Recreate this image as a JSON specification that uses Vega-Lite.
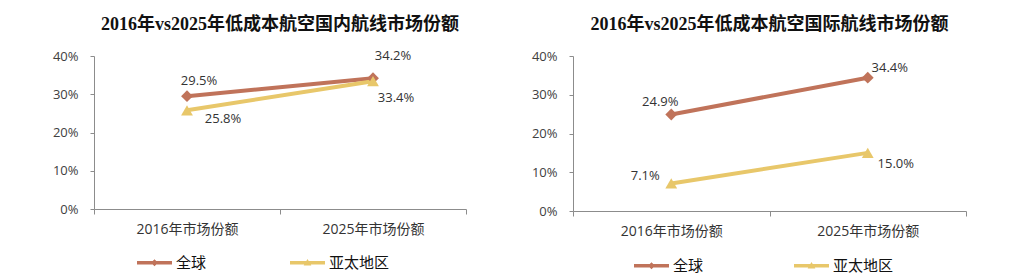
{
  "$schema": "https://vega.github.io/schema/vega-lite/v6.json",
  "padding": {"left": 52, "top": 16, "right": 5, "bottom": 0},
  "background": "white",
  "spacing": 64,
  "config": {
    "view": {"stroke": null},
    "font": "Open Sans, Noto Sans CJK SC",
    "title": {"font": "Liberation Serif, Noto Sans CJK SC", "fontSize": 18, "fontWeight": "bold", "color": "#111", "offset": 16},
    "axis": {"domainColor": "#8c8c8c", "tickColor": "#8c8c8c", "grid": false, "labelColor": "#404040", "title": null}
  },
  "resolve": {"scale": {"color": "independent", "x": "independent", "y": "independent"}, "legend": {"color": "independent"}},
  "hconcat": [
    {
      "title": "2016年vs2025年低成本航空国内航线市场份额",
      "width": 372,
      "height": 153,
      "data": {"values": [
        {"cat": "2016年市场份额", "series": "全球", "v": 0.295},
        {"cat": "2025年市场份额", "series": "全球", "v": 0.342},
        {"cat": "2016年市场份额", "series": "亚太地区", "v": 0.258},
        {"cat": "2025年市场份额", "series": "亚太地区", "v": 0.334}
      ]},
      "encoding": {
        "x": {"field": "cat", "type": "nominal", "sort": null, "scale": {"paddingInner": 0, "paddingOuter": 0}, "axis": {"labelAngle": 0, "tickBand": "extent", "tickSize": 5, "labelFontSize": 14, "labelPadding": 8, "labelColor": "#333"}},
        "y": {"field": "v", "type": "quantitative", "scale": {"domain": [0, 0.4]}, "axis": {"values": [0, 0.1, 0.2, 0.3, 0.4], "format": ".0%", "tickSize": 4, "labelFontSize": 13, "labelPadding": 12}}
      },
      "layer": [
        {
          "mark": {"type": "line", "strokeWidth": 4},
          "encoding": {
            "color": {"field": "series", "type": "nominal", "sort": null, "scale": {"domain": ["全球", "亚太地区"], "range": ["#c0735a", "#e8c76a"]},
              "legend": {"orient": "none", "legendX": 43, "legendY": 189, "direction": "horizontal", "columns": 2, "title": null, "symbolSize": 1225, "labelFontSize": 15, "labelColor": "#111", "labelOffset": 4, "columnPadding": 83,
                "encode": {"symbols": {"update": {
                  "shape": {"signal": "datum.value === '全球' ? 'M-1,-0.1H1V0.1H-1Z M0,-0.2L0.2,0L0,0.2L-0.2,0Z' : 'M-1,-0.1H1V0.1H-1Z M0,-0.22L0.22,0.16L-0.22,0.16Z'"},
                  "fill": {"signal": "datum.value === '全球' ? '#c0735a' : '#e8c76a'"},
                  "stroke": {"value": "transparent"},
                  "strokeWidth": {"value": 0},
                  "opacity": {"value": 1}
                }}}}}
          }
        },
        {
          "transform": [{"filter": "datum.series === '全球'"}],
          "mark": {"type": "point", "filled": true, "opacity": 1, "size": 140, "shape": "diamond", "color": "#c0735a"},
          "encoding": {}
        },
        {
          "transform": [{"filter": "datum.series === '亚太地区'"}],
          "mark": {"type": "point", "filled": true, "opacity": 1, "size": 140, "shape": "triangle-up", "color": "#e8c76a"},
          "encoding": {}
        },
        {
          "transform": [{"filter": "datum.series === '全球' && datum.cat === '2016年市场份额'"}],
          "mark": {"type": "text", "fontSize": 13, "color": "#333", "dx": 12, "dy": -15},
          "encoding": {"text": {"field": "v", "type": "quantitative", "format": ".1%"}}
        },
        {
          "transform": [{"filter": "datum.series === '全球' && datum.cat === '2025年市场份额'"}],
          "mark": {"type": "text", "fontSize": 13, "color": "#333", "dx": 20, "dy": -22},
          "encoding": {"text": {"field": "v", "type": "quantitative", "format": ".1%"}}
        },
        {
          "transform": [{"filter": "datum.series === '亚太地区' && datum.cat === '2016年市场份额'"}],
          "mark": {"type": "text", "fontSize": 13, "color": "#333", "dx": 36, "dy": 9},
          "encoding": {"text": {"field": "v", "type": "quantitative", "format": ".1%"}}
        },
        {
          "transform": [{"filter": "datum.series === '亚太地区' && datum.cat === '2025年市场份额'"}],
          "mark": {"type": "text", "fontSize": 13, "color": "#333", "dx": 23, "dy": 17},
          "encoding": {"text": {"field": "v", "type": "quantitative", "format": ".1%"}}
        }
      ]
    },
    {
      "title": "2016年vs2025年低成本航空国际航线市场份额",
      "width": 393,
      "height": 155,
      "data": {"values": [
        {"cat": "2016年市场份额", "series": "全球", "v": 0.249},
        {"cat": "2025年市场份额", "series": "全球", "v": 0.344},
        {"cat": "2016年市场份额", "series": "亚太地区", "v": 0.071},
        {"cat": "2025年市场份额", "series": "亚太地区", "v": 0.150}
      ]},
      "encoding": {
        "x": {"field": "cat", "type": "nominal", "sort": null, "scale": {"paddingInner": 0, "paddingOuter": 0}, "axis": {"labelAngle": 0, "tickBand": "extent", "tickSize": 5, "labelFontSize": 14, "labelPadding": 8, "labelColor": "#333"}},
        "y": {"field": "v", "type": "quantitative", "scale": {"domain": [0, 0.4]}, "axis": {"values": [0, 0.1, 0.2, 0.3, 0.4], "format": ".0%", "tickSize": 4, "labelFontSize": 13, "labelPadding": 12}}
      },
      "layer": [
        {
          "mark": {"type": "line", "strokeWidth": 4},
          "encoding": {
            "color": {"field": "series", "type": "nominal", "sort": null, "scale": {"domain": ["全球", "亚太地区"], "range": ["#c0735a", "#e8c76a"]},
              "legend": {"orient": "none", "legendX": 61, "legendY": 192, "direction": "horizontal", "columns": 2, "title": null, "symbolSize": 1225, "labelFontSize": 15, "labelColor": "#111", "labelOffset": 4, "columnPadding": 90,
                "encode": {"symbols": {"update": {
                  "shape": {"signal": "datum.value === '全球' ? 'M-1,-0.1H1V0.1H-1Z M0,-0.2L0.2,0L0,0.2L-0.2,0Z' : 'M-1,-0.1H1V0.1H-1Z M0,-0.22L0.22,0.16L-0.22,0.16Z'"},
                  "fill": {"signal": "datum.value === '全球' ? '#c0735a' : '#e8c76a'"},
                  "stroke": {"value": "transparent"},
                  "strokeWidth": {"value": 0},
                  "opacity": {"value": 1}
                }}}}}
          }
        },
        {
          "transform": [{"filter": "datum.series === '全球'"}],
          "mark": {"type": "point", "filled": true, "opacity": 1, "size": 140, "shape": "diamond", "color": "#c0735a"},
          "encoding": {}
        },
        {
          "transform": [{"filter": "datum.series === '亚太地区'"}],
          "mark": {"type": "point", "filled": true, "opacity": 1, "size": 140, "shape": "triangle-up", "color": "#e8c76a"},
          "encoding": {}
        },
        {
          "transform": [{"filter": "datum.series === '全球' && datum.cat === '2016年市场份额'"}],
          "mark": {"type": "text", "fontSize": 13, "color": "#333", "dx": -11, "dy": -13},
          "encoding": {"text": {"field": "v", "type": "quantitative", "format": ".1%"}}
        },
        {
          "transform": [{"filter": "datum.series === '全球' && datum.cat === '2025年市场份额'"}],
          "mark": {"type": "text", "fontSize": 13, "color": "#333", "dx": 22, "dy": -10},
          "encoding": {"text": {"field": "v", "type": "quantitative", "format": ".1%"}}
        },
        {
          "transform": [{"filter": "datum.series === '亚太地区' && datum.cat === '2016年市场份额'"}],
          "mark": {"type": "text", "fontSize": 13, "color": "#333", "dx": -26, "dy": -7},
          "encoding": {"text": {"field": "v", "type": "quantitative", "format": ".1%"}}
        },
        {
          "transform": [{"filter": "datum.series === '亚太地区' && datum.cat === '2025年市场份额'"}],
          "mark": {"type": "text", "fontSize": 13, "color": "#333", "dx": 28, "dy": 11},
          "encoding": {"text": {"field": "v", "type": "quantitative", "format": ".1%"}}
        }
      ]
    }
  ]
}
